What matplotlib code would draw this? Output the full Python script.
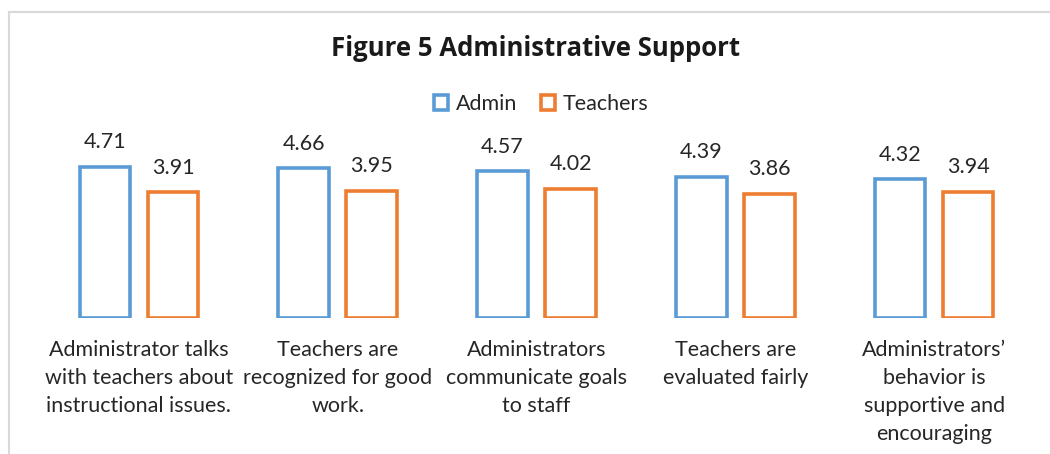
import matplotlib
matplotlib.use("Agg")
import matplotlib.pyplot as plt
import numpy as np
from matplotlib.patches import Rectangle
from matplotlib.lines import Line2D

title = "Figure 5 Administrative Support"
categories = [
    "Administrator talks\nwith teachers about\ninstructional issues.",
    "Teachers are\nrecognized for good\nwork.",
    "Administrators\ncommunicate goals\nto staff",
    "Teachers are\nevaluated fairly",
    "Administrators\u2019\nbehavior is\nsupportive and\nencouraging",
]
series_names = ["Admin", "Teachers"]
admin = [4.71, 4.66, 4.57, 4.39, 4.32]
teachers = [3.91, 3.95, 4.02, 3.86, 3.94]

colors = ["#5B9BD5", "#ED7D31"]
text_color = "#262626"
font = ["Lato", "DejaVu Sans"]
plt.rcParams["font.family"] = font

W, H = 1050, 454
fig = plt.figure(figsize=(W / 100, H / 100), dpi=100)
fig.patch.set_facecolor("white")

# frame border (partial, as in the screenshot)
fig.add_artist(Line2D([9 / W, 9 / W], [0, 1 - 12 / H], transform=fig.transFigure,
                      color="#d9d9d9", lw=1.5))
fig.add_artist(Line2D([9 / W, 1], [1 - 12 / H, 1 - 12 / H], transform=fig.transFigure,
                      color="#d9d9d9", lw=1.5))

left_px, right_px = 39.6, 1033.5
base_px = 318
unit_px = 32.1
ymax = 5.0
ax = fig.add_axes([left_px / W, (H - base_px) / H, (right_px - left_px) / W,
                   ymax * unit_px / H])

x = np.arange(len(categories))
bw = 0.255
off = 0.171
for vals, sign, col, name in [(admin, -1, colors[0], series_names[0]),
                              (teachers, 1, colors[1], series_names[1])]:
    ax.bar(x + sign * off, vals, width=bw, facecolor="white", edgecolor=col,
           linewidth=2.6, label=name)
    for xi, v in zip(x + sign * off, vals):
        ax.annotate(f"{v:.2f}", (xi, v), xytext=(0, 13.5), textcoords="offset points",
                    ha="center", va="baseline", fontsize=15.5, color=text_color)

ax.set_xlim(-0.5, len(categories) - 0.5)
ax.set_ylim(0, ymax)
ax.set_yticks([])
ax.set_xticks(x)
ax.set_xticklabels(categories, fontsize=15.5, color=text_color, linespacing=1.5)
ax.tick_params(axis="x", length=0, pad=15.5)
for s in ax.spines.values():
    s.set_visible(False)

fig.text(536 / W, 1 - 48 / H, title, ha="center", va="center", fontsize=18.5,
         fontweight="bold", color="#1a1a1a", family=["Open Sans", "DejaVu Sans"])

handles = [Rectangle((0, 0), 1, 1, facecolor="white", edgecolor=c, linewidth=2.6)
           for c in colors]
fig.legend(handles, series_names, loc="center", bbox_to_anchor=(541 / W, 1 - 104 / H),
           ncol=2, frameon=False, fontsize=15.5, handlelength=0.65, handleheight=0.65,
           handletextpad=0.35, columnspacing=1.1, labelcolor=text_color)

fig.savefig("out.png", dpi=100, facecolor="white")
